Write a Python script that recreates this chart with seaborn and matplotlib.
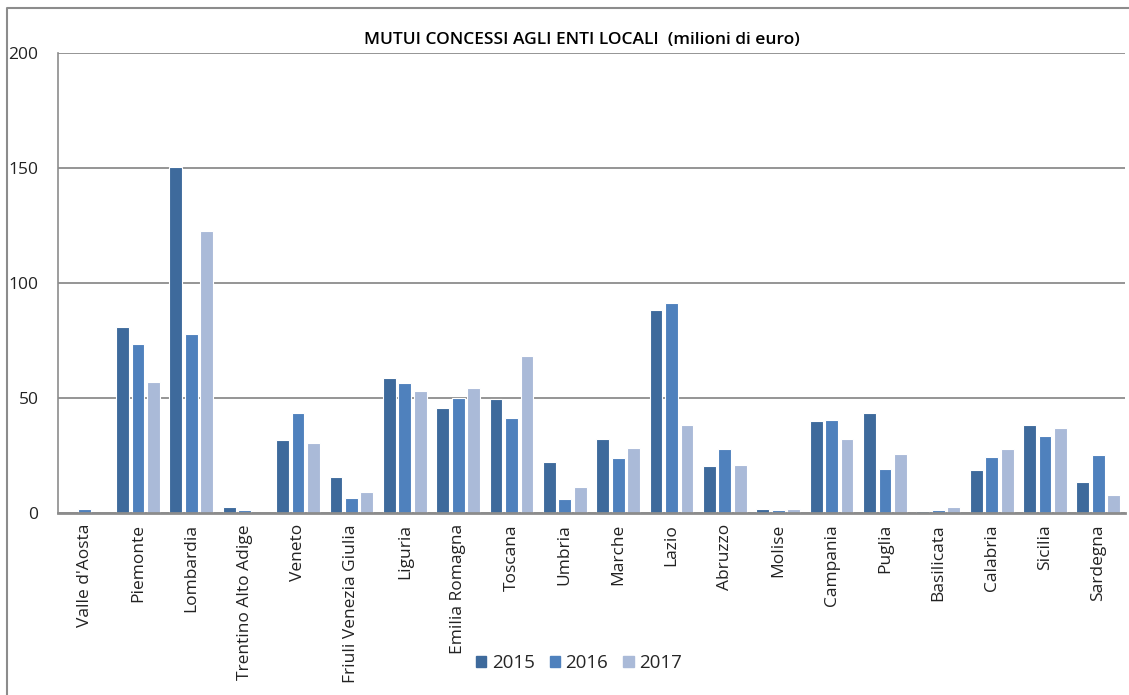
import matplotlib
matplotlib.use('Agg')
import matplotlib.pyplot as plt
import pandas as pd
import seaborn as sns

# data (milioni di euro)
regioni = ["Valle d'Aosta", 'Piemonte', 'Lombardia', 'Trentino Alto Adige', 'Veneto',
           'Friuli Venezia Giulia', 'Liguria', 'Emilia Romagna', 'Toscana', 'Umbria',
           'Marche', 'Lazio', 'Abruzzo', 'Molise', 'Campania', 'Puglia', 'Basilicata',
           'Calabria', 'Sicilia', 'Sardegna']
anni = ['2015', '2016', '2017']
v2015 = [0.0, 80.9, 150.4, 2.6, 31.7, 15.7, 58.7, 45.7, 49.6, 22.2,
         32.2, 88.3, 20.4, 1.7, 40.0, 43.5, 0.9, 18.7, 38.3, 13.5]
v2016 = [1.7, 73.5, 77.8, 1.3, 43.5, 6.5, 56.5, 50.0, 41.3, 6.1,
         23.9, 91.3, 27.8, 1.3, 40.4, 19.1, 1.3, 24.3, 33.5, 25.2]
v2017 = [0.0, 57.0, 122.6, 0.0, 30.4, 9.1, 53.0, 54.3, 68.3, 11.3,
         28.3, 38.3, 20.9, 1.7, 32.2, 25.7, 2.6, 27.8, 37.0, 7.8]
colori = ['#3E6A9C', '#4F81BD', '#AABAD8']

df = pd.DataFrame({
    'regione': regioni * 3,
    'anno': [a for a in anni for _ in regioni],
    'valore': v2015 + v2016 + v2017,
})

sns.set_style('white')
plt.rcParams['font.family'] = ['Open Sans', 'DejaVu Sans']

fig = plt.figure(figsize=(11.29, 6.95), dpi=100)
ax = fig.add_axes([58 / 1129, 1 - 513 / 695, (1125 - 58) / 1129, (513 - 53) / 695])

sns.barplot(data=df, x='regione', y='valore', hue='anno', palette=colori, saturation=1,
            width=0.87, gap=0.17, edgecolor='white', linewidth=0.8,
            ax=ax, legend=False, zorder=3)

ax.set_ylim(0, 200)
ax.set_xlim(-0.5, len(regioni) - 0.5)
ax.set_yticks([0, 50, 100, 150, 200])
ax.yaxis.grid(True, color='#8c8c8c', linewidth=1.3, zorder=0)
ax.set_axisbelow(True)
ax.set_xlabel('')
ax.set_ylabel('')
ax.tick_params(axis='y', length=0, pad=14, labelsize=12.5, labelcolor='#222222')
ax.tick_params(axis='x', length=0, pad=8, labelsize=12.5, labelcolor='#222222')
plt.setp(ax.get_xticklabels(), rotation=90)

for s in ['top', 'right']:
    ax.spines[s].set_visible(False)
ax.spines['left'].set_color('#8c8c8c')
ax.spines['left'].set_linewidth(1.2)
ax.spines['bottom'].set_color('#8c8c8c')
ax.spines['bottom'].set_linewidth(2)
ax.spines['bottom'].set_zorder(5)

fig.text(582 / 1129, 1 - 40 / 695, 'MUTUI CONCESSI AGLI ENTI LOCALI  (milioni di euro)',
         ha='center', va='center', fontsize=12.5, fontweight='semibold', color='#000000')

handles = [plt.Rectangle((0, 0), 1, 1, color=c) for c in colori]
fig.legend(handles, anni, loc='center', bbox_to_anchor=(579 / 1129, 1 - 663 / 695),
           ncol=3, frameon=False, fontsize=13.5, handlelength=0.55, handleheight=0.55,
           handletextpad=0.3, columnspacing=0.8)

# cornice del grafico
fig.add_artist(plt.Line2D([7 / 1129, 7 / 1129, 1.0], [0.0, 1 - 7.5 / 695, 1 - 7.5 / 695],
                          transform=fig.transFigure, color='#8c8c8c', linewidth=1.5))

fig.savefig('out.png', dpi=100)
